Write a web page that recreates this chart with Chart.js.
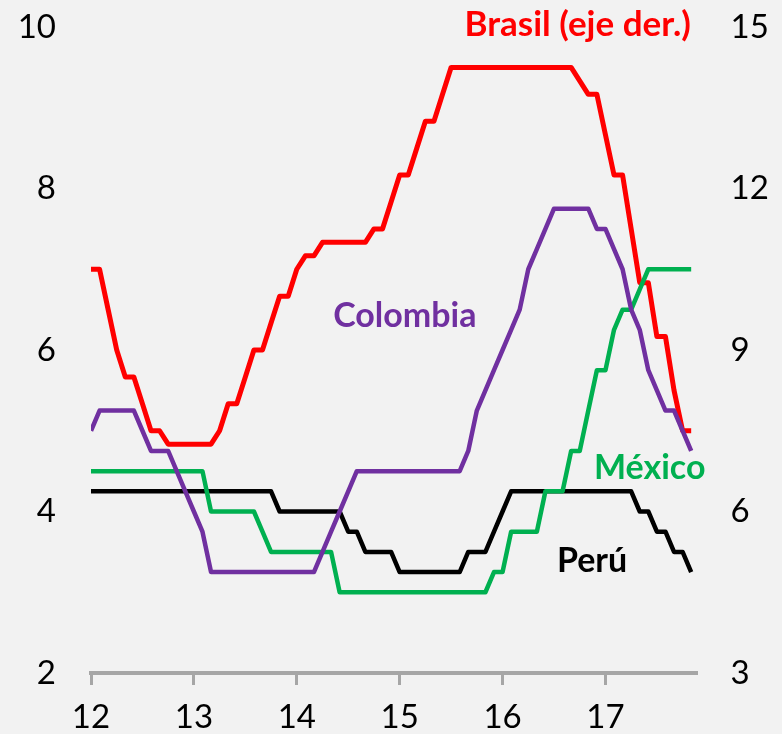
<!DOCTYPE html>
<html>
<head>
<meta charset="utf-8">
<script src="https://cdn.jsdelivr.net/npm/chart.js@4/dist/chart.umd.min.js"></script>
<style>
  html, body { margin: 0; padding: 0; background: #f2f2f2; }
  #wrap { width: 782px; height: 734px; }
</style>
</head>
<body>
<div id="wrap"><canvas id="rateChart" width="782" height="734"></canvas></div>
<script>
// Monthly policy rates, Jan 2012 (index 0) to Nov 2017 (index 70)
const startYear = 12;

const brasil = [
    10.5, 10.5, 9.75, 9.0, 8.5, 8.5, 8.0, 7.5, 7.5, 7.25, 7.25, 7.25,
    7.25, 7.25, 7.25, 7.5, 8.0, 8.0, 8.5, 9.0, 9.0, 9.5, 10.0, 10.0,
    10.5, 10.75, 10.75, 11.0, 11.0, 11.0, 11.0, 11.0, 11.0, 11.25, 11.25, 11.75,
    12.25, 12.25, 12.75, 13.25, 13.25, 13.75, 14.25, 14.25, 14.25, 14.25, 14.25, 14.25,
    14.25, 14.25, 14.25, 14.25, 14.25, 14.25, 14.25, 14.25, 14.25, 14.0, 13.75, 13.75,
    13.0, 12.25, 12.25, 11.25, 10.25, 10.25, 9.25, 9.25, 8.25, 7.5, 7.5
];

const colombia = [
    5.0, 5.25, 5.25, 5.25, 5.25, 5.25, 5.0, 4.75, 4.75, 4.75, 4.5, 4.25,
    4.0, 3.75, 3.25, 3.25, 3.25, 3.25, 3.25, 3.25, 3.25, 3.25, 3.25, 3.25,
    3.25, 3.25, 3.25, 3.5, 3.75, 4.0, 4.25, 4.5, 4.5, 4.5, 4.5, 4.5,
    4.5, 4.5, 4.5, 4.5, 4.5, 4.5, 4.5, 4.5, 4.75, 5.25, 5.5, 5.75,
    6.0, 6.25, 6.5, 7.0, 7.25, 7.5, 7.75, 7.75, 7.75, 7.75, 7.75, 7.5,
    7.5, 7.25, 7.0, 6.5, 6.25, 5.75, 5.5, 5.25, 5.25, 5.0, 4.75
];

const mexico = [
    4.5, 4.5, 4.5, 4.5, 4.5, 4.5, 4.5, 4.5, 4.5, 4.5, 4.5, 4.5,
    4.5, 4.5, 4.0, 4.0, 4.0, 4.0, 4.0, 4.0, 3.75, 3.5, 3.5, 3.5,
    3.5, 3.5, 3.5, 3.5, 3.5, 3.0, 3.0, 3.0, 3.0, 3.0, 3.0, 3.0,
    3.0, 3.0, 3.0, 3.0, 3.0, 3.0, 3.0, 3.0, 3.0, 3.0, 3.0, 3.25,
    3.25, 3.75, 3.75, 3.75, 3.75, 4.25, 4.25, 4.25, 4.75, 4.75, 5.25, 5.75,
    5.75, 6.25, 6.5, 6.5, 6.75, 7.0, 7.0, 7.0, 7.0, 7.0, 7.0
];

const peru = [
    4.25, 4.25, 4.25, 4.25, 4.25, 4.25, 4.25, 4.25, 4.25, 4.25, 4.25, 4.25,
    4.25, 4.25, 4.25, 4.25, 4.25, 4.25, 4.25, 4.25, 4.25, 4.25, 4.0, 4.0,
    4.0, 4.0, 4.0, 4.0, 4.0, 4.0, 3.75, 3.75, 3.5, 3.5, 3.5, 3.5,
    3.25, 3.25, 3.25, 3.25, 3.25, 3.25, 3.25, 3.25, 3.5, 3.5, 3.5, 3.75,
    4.0, 4.25, 4.25, 4.25, 4.25, 4.25, 4.25, 4.25, 4.25, 4.25, 4.25, 4.25,
    4.25, 4.25, 4.25, 4.25, 4.0, 4.0, 3.75, 3.75, 3.5, 3.5, 3.25
];

// Series labels written on the plot (x in years, y on the given axis)
const seriesLabels = [
    { text: 'Brasil (eje der.)', color: '#ff0000', x: 16.73, y: 15.05, axis: 'y2', size: 35 },
    { text: 'Colombia', color: '#7030a0', x: 15.05, y: 6.42, axis: 'y', size: 34 },
    { text: 'México', color: '#00b050', x: 17.43, y: 4.54, axis: 'y', size: 34 },
    { text: 'Perú', color: '#000000', x: 16.87, y: 3.39, axis: 'y', size: 34 }
];

function toPoints(values) {
    return values.map((v, i) => ({ x: startYear + i / 12, y: v }));
}

const labelPlugin = {
    id: 'seriesLabels',
    afterDatasetsDraw(chart) {
        const ctx = chart.ctx;
        ctx.save();
        ctx.textAlign = 'center';
        ctx.textBaseline = 'middle';
        seriesLabels.forEach(l => {
            ctx.font = `bold ${l.size}px Lato`;
            ctx.fillStyle = l.color;
            ctx.fillText(l.text, chart.scales.x.getPixelForValue(l.x), chart.scales[l.axis].getPixelForValue(l.y));
        });
        ctx.restore();
    }
};

// fixed axis width, and no extra top/bottom padding from the tick padding
function fitSide(width) {
    return s => {
        s.width = width;
        s.paddingTop = 0;
        s.paddingBottom = 0;
    };
}

Chart.defaults.font.family = 'Lato';
Chart.defaults.color = '#000';

const lineStyle = { borderWidth: 4.5, pointRadius: 0, tension: 0, borderJoinStyle: 'round', fill: false };

const ctx = document.getElementById('rateChart').getContext('2d');
new Chart(ctx, {
    type: 'line',
    data: {
        datasets: [
            { label: 'Colombia', data: toPoints(colombia), borderColor: '#7030a0', yAxisID: 'y', ...lineStyle },
            { label: 'México', data: toPoints(mexico), borderColor: '#00b050', yAxisID: 'y', ...lineStyle },
            { label: 'Perú', data: toPoints(peru), borderColor: '#000000', yAxisID: 'y', ...lineStyle },
            { label: 'Brasil', data: toPoints(brasil), borderColor: '#ff0000', yAxisID: 'y2', ...lineStyle, borderWidth: 5 }
        ]
    },
    options: {
        responsive: false,
        animation: false,
        layout: { padding: { top: 27, left: 0, right: 0, bottom: 0 } },
        plugins: { legend: { display: false }, tooltip: { enabled: false } },
        scales: {
            x: {
                type: 'linear',
                min: 12,
                max: 17.885,
                ticks: { stepSize: 1, includeBounds: false, padding: 13, font: { size: 33 } },
                grid: { display: true, drawOnChartArea: false, drawTicks: true, tickLength: 12, color: '#a6a6a6', lineWidth: 3 },
                border: { display: true, color: '#a6a6a6', width: 4 },
                afterFit: s => { s.height = 61; }
            },
            y: {
                position: 'left',
                min: 2,
                max: 10,
                ticks: { stepSize: 2, padding: 35, font: { size: 33 } },
                grid: { display: false, drawTicks: false },
                border: { display: false },
                afterFit: fitSide(91)
            },
            y2: {
                position: 'right',
                min: 3,
                max: 15,
                ticks: { stepSize: 3, padding: 34, font: { size: 33 } },
                grid: { display: false, drawTicks: false },
                border: { display: false },
                afterFit: fitSide(85.5)
            }
        }
    },
    plugins: [labelPlugin]
});
</script>
</body>
</html>
